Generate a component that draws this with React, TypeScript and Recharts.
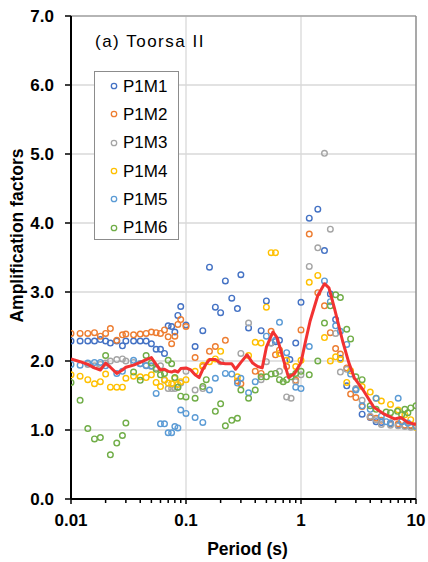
import React from 'react';
import {
  ScatterChart,
  Scatter,
  XAxis,
  YAxis,
  CartesianGrid,
  ReferenceLine,
  Legend,
  Label,
} from 'recharts';

type Pair = [number, number]; // [period (s), amplification factor]

const P1M1: Pair[] = [
  [0.01, 2.29], [0.012, 2.29], [0.014, 2.29], [0.016, 2.29], [0.018, 2.31], [0.02, 2.29],
  [0.022, 2.26], [0.025, 2.29], [0.028, 2.22], [0.03, 2.29], [0.035, 2.29], [0.04, 2.29],
  [0.045, 2.29], [0.05, 2.25], [0.055, 2.17], [0.06, 2.17], [0.065, 2.11], [0.07, 2.51],
  [0.075, 2.5], [0.08, 2.42], [0.085, 2.66], [0.09, 2.79], [0.1, 2.52], [0.12, 2.21],
  [0.14, 2.44], [0.16, 3.36], [0.18, 2.78], [0.2, 2.7], [0.22, 3.16], [0.25, 2.91],
  [0.28, 2.76], [0.3, 3.25], [0.35, 2.48], [0.45, 2.44], [0.5, 2.87], [0.55, 2.26],
  [0.6, 2.28], [0.65, 2.3], [0.8, 2.02], [0.9, 2.26], [1.0, 2.85], [1.18, 4.07],
  [1.4, 4.2], [1.6, 3.6], [1.8, 2.97], [2.0, 2.6], [2.2, 2.04], [2.5, 1.64], [3.0, 1.59],
  [3.4, 1.23], [4.0, 1.18], [4.5, 1.12], [5.0, 1.11], [6.0, 1.09], [7.0, 1.07], [8.0, 1.06],
  [9.0, 1.06], [10, 1.05],
];

const P1M2: Pair[] = [
  [0.01, 2.4], [0.012, 2.4], [0.014, 2.4], [0.016, 2.41], [0.018, 2.36], [0.02, 2.4],
  [0.022, 2.47], [0.025, 2.3], [0.028, 2.38], [0.03, 2.39], [0.035, 2.38], [0.04, 2.39],
  [0.045, 2.4], [0.05, 2.42], [0.055, 2.41], [0.06, 2.4], [0.065, 2.45], [0.07, 2.35],
  [0.075, 2.25], [0.08, 2.36], [0.085, 2.53], [0.09, 2.6], [0.1, 2.5], [0.12, 2.05],
  [0.14, 1.92], [0.16, 2.14], [0.18, 2.21], [0.22, 2.3], [0.28, 1.71], [0.3, 1.67],
  [0.4, 1.85], [0.45, 1.82], [0.55, 2.43], [0.6, 2.09], [0.65, 2.16], [0.75, 1.92],
  [0.9, 1.72], [1.0, 2.45], [1.18, 3.84], [1.4, 2.99], [1.6, 2.8], [1.8, 2.41], [2.0, 2.18],
  [2.2, 2.1], [2.5, 1.9], [2.7, 1.52], [3.0, 1.47], [3.4, 1.34], [4.0, 1.19], [4.5, 1.17],
  [5.0, 1.14], [6.0, 1.1], [7.0, 1.09], [8.0, 1.07], [9.0, 1.07], [10, 1.06],
];

const P1M3: Pair[] = [
  [0.014, 1.95], [0.016, 1.93], [0.018, 1.95], [0.02, 1.97], [0.022, 2.0], [0.025, 2.02],
  [0.028, 2.03], [0.03, 2.0], [0.035, 1.98], [0.04, 1.96], [0.045, 1.94], [0.05, 1.92],
  [0.055, 1.9], [0.06, 1.93], [0.065, 1.72], [0.07, 1.6], [0.075, 1.6], [0.08, 1.6],
  [0.085, 1.62], [0.09, 1.68], [0.1, 1.85], [0.12, 1.58], [0.14, 1.6], [0.2, 1.99],
  [0.3, 2.11], [0.35, 2.55], [0.45, 1.73], [0.5, 1.99], [0.55, 2.26], [0.65, 1.85],
  [0.75, 1.48], [0.82, 1.46], [0.9, 1.7], [1.0, 1.8], [1.18, 3.37], [1.4, 3.64], [1.6, 5.01],
  [1.8, 3.91], [2.0, 2.4], [2.2, 1.84], [2.5, 1.88], [3.0, 1.6], [3.4, 1.43], [4.0, 1.2],
  [4.5, 1.15], [5.0, 1.08], [6.0, 1.07], [7.0, 1.06], [8.0, 1.05], [9.0, 1.04], [10, 1.04],
];

const P1M4: Pair[] = [
  [0.01, 1.8], [0.012, 1.78], [0.014, 1.73], [0.016, 1.67], [0.018, 1.7], [0.02, 1.81],
  [0.022, 1.62], [0.025, 1.62], [0.028, 1.62], [0.03, 1.75], [0.035, 1.78], [0.04, 1.77],
  [0.045, 1.76], [0.05, 1.8], [0.055, 1.69], [0.06, 1.63], [0.065, 1.73], [0.07, 1.68],
  [0.075, 1.67], [0.08, 1.75], [0.085, 1.66], [0.09, 1.7], [0.1, 1.73], [0.12, 1.85],
  [0.14, 1.94], [0.16, 1.99], [0.18, 2.03], [0.2, 2.14], [0.28, 1.77], [0.35, 2.08],
  [0.4, 2.27], [0.45, 2.26], [0.5, 2.78], [0.55, 3.57], [0.6, 3.57], [0.65, 2.11],
  [0.75, 2.01], [0.9, 1.92], [1.0, 2.01], [1.18, 3.14], [1.4, 3.24], [1.6, 2.34], [1.8, 2.0],
  [2.0, 2.06], [2.2, 2.02], [2.5, 1.69], [2.7, 1.86], [3.4, 1.63], [4.0, 1.55], [4.5, 1.46],
  [5.0, 1.42], [6.0, 1.37], [7.0, 1.29], [8.0, 1.22], [9.0, 1.15], [10, 1.04],
];

const P1M5: Pair[] = [
  [0.01, 1.95], [0.012, 1.94], [0.014, 1.97], [0.016, 1.98], [0.018, 1.98], [0.02, 1.93],
  [0.025, 1.82], [0.028, 1.85], [0.035, 2.01], [0.04, 1.96], [0.045, 1.93], [0.05, 1.93],
  [0.055, 1.53], [0.06, 1.09], [0.065, 1.09], [0.07, 0.96], [0.075, 0.96], [0.08, 1.05],
  [0.085, 1.03], [0.09, 1.29], [0.1, 1.24], [0.12, 1.18], [0.14, 1.11], [0.16, 1.58],
  [0.18, 1.75], [0.22, 1.82], [0.25, 1.81], [0.28, 1.68], [0.3, 1.75], [0.35, 1.54],
  [0.4, 1.7], [0.5, 2.36], [0.6, 2.3], [0.65, 2.56], [0.75, 2.12], [0.82, 1.77], [0.9, 1.62],
  [1.0, 1.6], [1.18, 2.21], [1.6, 3.16], [1.8, 2.86], [2.0, 2.51], [2.2, 2.43], [2.5, 2.24],
  [2.7, 1.81], [3.0, 1.58], [3.4, 1.35], [4.0, 1.3], [4.5, 1.46], [5.0, 1.2], [5.5, 1.12],
  [6.0, 1.1], [7.0, 1.46], [7.5, 1.12], [8.5, 1.1], [10, 1.05],
];

const P1M6: Pair[] = [
  [0.01, 1.69], [0.012, 1.43], [0.014, 1.02], [0.016, 0.87], [0.018, 0.89], [0.02, 2.08],
  [0.022, 0.64], [0.025, 0.81], [0.028, 0.92], [0.03, 1.1], [0.035, 1.84], [0.04, 1.72],
  [0.045, 2.08], [0.05, 1.97], [0.055, 1.88], [0.06, 1.8], [0.065, 1.82], [0.07, 2.01],
  [0.075, 1.96], [0.08, 1.76], [0.085, 1.62], [0.09, 1.49], [0.1, 1.48], [0.12, 1.46],
  [0.14, 1.63], [0.15, 1.73], [0.18, 1.27], [0.2, 1.38], [0.22, 1.06], [0.25, 1.14],
  [0.28, 1.17], [0.3, 1.58], [0.35, 1.46], [0.4, 1.58], [0.45, 1.77], [0.5, 1.77],
  [0.55, 1.81], [0.6, 1.82], [0.65, 1.73], [0.7, 1.7], [0.75, 1.73], [0.82, 1.77], [0.9, 1.82],
  [1.0, 1.85], [1.18, 1.8], [1.4, 2.0], [1.6, 2.55], [1.8, 2.8], [2.0, 2.96], [2.2, 2.92],
  [2.5, 2.46], [2.7, 2.32], [3.0, 1.77], [3.4, 1.73], [4.0, 1.35], [4.5, 1.3], [5.5, 1.26],
  [6.0, 1.25], [6.9, 1.27], [7.5, 1.22], [8.0, 1.3], [8.5, 1.25], [9.0, 1.32], [10, 1.35],
];

// Mean amplification across the six motions
const MEAN: Pair[] = [
  [0.01, 2.03], [0.012, 1.99], [0.014, 1.95], [0.016, 1.9], [0.018, 1.87], [0.02, 1.97],
  [0.022, 1.91], [0.025, 1.82], [0.028, 1.87], [0.03, 1.91], [0.035, 1.94], [0.04, 1.98],
  [0.045, 2.02], [0.05, 2.05], [0.055, 1.95], [0.06, 1.87], [0.065, 1.88], [0.07, 1.85],
  [0.075, 1.84], [0.08, 1.86], [0.085, 1.84], [0.09, 1.89], [0.1, 1.9], [0.11, 1.87],
  [0.12, 1.8], [0.13, 1.76], [0.14, 1.88], [0.15, 1.96], [0.16, 2.02], [0.18, 2.02],
  [0.2, 1.97], [0.22, 1.96], [0.25, 1.96], [0.27, 1.88], [0.3, 1.98], [0.34, 2.09],
  [0.38, 1.97], [0.42, 1.92], [0.46, 1.9], [0.5, 2.2], [0.57, 2.42], [0.62, 2.34],
  [0.7, 2.03], [0.78, 1.76], [0.88, 1.82], [1.0, 1.98], [1.1, 2.3], [1.2, 2.58], [1.4, 2.95],
  [1.6, 3.12], [1.75, 3.06], [1.95, 2.77], [2.3, 2.29], [2.6, 1.98], [2.9, 1.76], [3.5, 1.57],
  [4.3, 1.33], [5.3, 1.23], [6.5, 1.16], [7.4, 1.18], [8.5, 1.11], [10, 1.08],
];

const SERIES = [
  { name: 'P1M1', color: '#4472C4', data: P1M1 },
  { name: 'P1M2', color: '#ED7D31', data: P1M2 },
  { name: 'P1M3', color: '#A5A5A5', data: P1M3 },
  { name: 'P1M4', color: '#FFC000', data: P1M4 },
  { name: 'P1M5', color: '#5B9BD5', data: P1M5 },
  { name: 'P1M6', color: '#70AD47', data: P1M6 },
];

const X_MAJOR = [0.01, 0.1, 1, 10];
const X_MAJOR_LABELS = ['0.01', '0.1', '1', '10'];
const X_MINOR = [
  0.02, 0.03, 0.04, 0.05, 0.06, 0.07, 0.08, 0.09,
  0.2, 0.3, 0.4, 0.5, 0.6, 0.7, 0.8, 0.9,
  2, 3, 4, 5, 6, 7, 8, 9,
];
const Y_TICKS = [0, 1, 2, 3, 4, 5, 6, 7];

const TITLE = '(a) Toorsa II';
const X_TITLE = 'Period (s)';
const Y_TITLE = 'Amplification factors';

const FONT = '"Liberation Sans", Arial, Helvetica, sans-serif';
const MEAN_COLOR = '#f23232';
const GRID = '#d9d9d9';

const WIDTH = 428;
const HEIGHT = 562;

const toPoints = (d: Pair[]) => d.map(([p, a]) => ({ p, a }));

function XTick(props: any) {
  const { x, y, payload } = props;
  const i = X_MAJOR.indexOf(payload.value);
  const major = i >= 0;
  return (
    <g>
      <line x1={x} x2={x} y1={y} y2={y + (major ? 5 : 4)} stroke="#000" strokeWidth={1.5} />
      {major && (
        <text
          x={x}
          y={y + 27}
          textAnchor="middle"
          fontFamily={FONT}
          fontSize={17}
          fontWeight="bold"
          fill="#000"
        >
          {X_MAJOR_LABELS[i]}
        </text>
      )}
    </g>
  );
}

function YTick(props: any) {
  const { x, y, payload } = props;
  return (
    <g>
      <line x1={x} x2={x - 6} y1={y} y2={y} stroke="#000" strokeWidth={1.5} />
      <text
        x={x - 17}
        y={y + 6}
        textAnchor="end"
        fontFamily={FONT}
        fontSize={17}
        fontWeight="bold"
        fill="#000"
      >
        {Number(payload.value).toFixed(1)}
      </text>
    </g>
  );
}

function YTitle(props: any) {
  const vb = props.viewBox || { x: 0, y: 0, width: 0, height: 0 };
  const cx = vb.x + 9;
  const cy = vb.y + vb.height / 2 - 22;
  return (
    <text
      x={cx}
      y={cy}
      transform={`rotate(-90 ${cx} ${cy})`}
      textAnchor="middle"
      dominantBaseline="central"
      fontFamily={FONT}
      fontSize={17.5}
      fontWeight="bold"
      fill="#000"
    >
      {Y_TITLE}
    </text>
  );
}

function XTitle(props: any) {
  const vb = props.viewBox || { x: 0, y: 0, width: 0, height: 0 };
  return (
    <text
      x={vb.x + vb.width / 2 + 4}
      y={vb.y + 56}
      textAnchor="middle"
      fontFamily={FONT}
      fontSize={17.5}
      fontWeight="bold"
      fill="#000"
    >
      {X_TITLE}
    </text>
  );
}

function LegendBox() {
  return (
    <div
      style={{
        boxSizing: 'border-box',
        width: 85,
        height: 169,
        border: '1.3px solid #8c8c8c',
        background: '#fff',
        fontFamily: FONT,
        fontSize: 17,
        color: '#000',
      }}
    >
      {SERIES.map((s) => (
        <div key={s.name} style={{ display: 'flex', alignItems: 'center', height: 28.3 }}>
          <svg width={12} height={12} style={{ marginLeft: 13, flex: 'none' }}>
            <circle cx={6} cy={6} r={2.7} fill="none" stroke={s.color} strokeWidth={1.3} />
          </svg>
          <span style={{ marginLeft: 3, lineHeight: '17px', whiteSpace: 'nowrap' }}>{s.name}</span>
        </div>
      ))}
    </div>
  );
}

const ring = (color: string) => (props: any) =>
  <circle cx={props.cx} cy={props.cy} r={2.8} fill="none" stroke={color} strokeWidth={1.4} />;

export default function App() {
  return (
    <div style={{ position: 'relative', width: WIDTH, height: HEIGHT, fontFamily: FONT }}>
      <style>{'html, body { margin: 0; padding: 0; }'}</style>
      <ScatterChart
        width={WIDTH}
        height={HEIGHT}
        margin={{ top: 16, right: 12, left: 8, bottom: 0 }}
      >
        <CartesianGrid vertical={false} stroke={GRID} strokeWidth={1.3} />
        <XAxis
          dataKey="p"
          type="number"
          scale="log"
          domain={[0.01, 10]}
          allowDataOverflow
          ticks={[...X_MAJOR, ...X_MINOR].sort((a, b) => a - b)}
          interval={0}
          height={63}
          tickSize={0}
          tickMargin={0}
          tickLine={false}
          tick={<XTick />}
          axisLine={{ stroke: '#000', strokeWidth: 2 }}
        >
          <Label content={<XTitle />} />
        </XAxis>
        <YAxis
          dataKey="a"
          type="number"
          domain={[0, 7]}
          ticks={Y_TICKS}
          interval={0}
          width={63}
          tickSize={0}
          tickMargin={0}
          tickLine={false}
          tick={<YTick />}
          axisLine={{ stroke: '#000', strokeWidth: 2 }}
        >
          <Label content={<YTitle />} />
        </YAxis>
        <ReferenceLine x={0.1} stroke={GRID} strokeWidth={1.3} />
        <ReferenceLine x={1} stroke={GRID} strokeWidth={1.3} />
        <ReferenceLine y={7} stroke="#a6a6a6" strokeWidth={1.5} />
        <ReferenceLine x={10} stroke="#8c8c8c" strokeWidth={1.5} />
        {SERIES.map((s) => (
          <Scatter
            key={s.name}
            name={s.name}
            data={toPoints(s.data)}
            fill={s.color}
            shape={ring(s.color)}
            isAnimationActive={false}
          />
        ))}
        <Scatter
          name="Mean"
          data={toPoints(MEAN)}
          fill={MEAN_COLOR}
          shape={() => <g />}
          line={{ stroke: MEAN_COLOR, strokeWidth: 3, strokeLinejoin: 'round' }}
          legendType="none"
          isAnimationActive={false}
        />
        <Legend
          layout="vertical"
          align="center"
          verticalAlign="middle"
          content={<LegendBox />}
          wrapperStyle={{ position: 'absolute', left: 94, top: 71, width: 85, height: 169 }}
        />
      </ScatterChart>
      <div
        style={{
          position: 'absolute',
          left: 95,
          top: 33,
          fontFamily: FONT,
          fontSize: 17,
          lineHeight: '17px',
          letterSpacing: 1.5,
          color: '#000',
          whiteSpace: 'nowrap',
        }}
      >
        {TITLE}
      </div>
    </div>
  );
}
